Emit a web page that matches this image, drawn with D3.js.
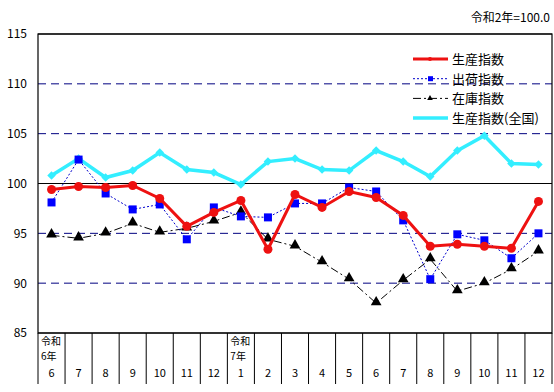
<!DOCTYPE html>
<html>
<head>
<meta charset="utf-8">
<script src="https://cdn.jsdelivr.net/npm/d3@7"></script>
<style>
  body { margin: 0; background: #fff; }
  svg text { font-family: 'Noto Sans CJK JP', 'DejaVu Sans', sans-serif; }
</style>
</head>
<body>
<div id="chart"></div>
<script>
// months on the x axis (令和6年6月 .. 令和7年12月)
let months = ['6', '7', '8', '9', '10', '11', '12', '1', '2', '3', '4', '5', '6', '7', '8', '9', '10', '11', '12']
let eraLabels = { 0: ['令和', '6年'], 7: ['令和', '7年'] }

let production = [99.4, 99.7, 99.6, 99.8, 98.5, 95.7, 97.1, 98.3, 93.4, 98.9, 97.6, 99.2, 98.6, 96.8, 93.7, 93.9, 93.7, 93.5, 98.2]
let shipments = [98.1, 102.4, 99.0, 97.4, 97.9, 94.4, 97.6, 96.7, 96.6, 98.0, 98.0, 99.6, 99.2, 96.3, 90.4, 94.9, 94.3, 92.5, 95.0]
let inventory = [94.8, 94.5, 95.0, 96.0, 95.1, 95.5, 96.2, 97.1, 94.4, 93.7, 92.1, 90.4, 88.0, 90.3, 92.4, 89.2, 90.0, 91.4, 93.2]
let national = [100.8, 102.5, 100.6, 101.3, 103.1, 101.4, 101.1, 99.9, 102.2, 102.5, 101.4, 101.3, 103.3, 102.2, 100.7, 103.3, 104.8, 102.0, 101.9]

let yTicks = [85, 90, 95, 100, 105, 110, 115]

let margin = { top: 34, left: 38, right: 2, bottom: 59 }
let width = 554 - margin.left - margin.right
let height = 392 - margin.top - margin.bottom

let svg = d3
  .select('#chart')
  .append('svg')
  .attr('width', 554)
  .attr('height', 392)

let g = svg.append('g')
  .attr('transform', 'translate(' + margin.left + ',' + margin.top + ')')

let x = d3.scaleBand().domain(d3.range(months.length)).range([0, width])
let y = d3.scaleLinear().domain([85, 115]).range([height, 0])
let cx = i => x(i) + x.bandwidth() / 2

// unit note
svg.append('text')
  .attr('x', 550).attr('y', 22)
  .attr('text-anchor', 'end')
  .attr('font-size', 12)
  .text('令和2年=100.0')

// grid lines
yTicks.forEach(t => {
  let solid = t === 85 || t === 100 || t === 115
  g.append('line')
    .attr('x1', 0).attr('x2', width)
    .attr('y1', y(t)).attr('y2', y(t))
    .attr('stroke', solid ? '#000' : '#000080')
    .attr('stroke-width', solid ? 1.2 : 1)
    .attr('stroke-dasharray', solid ? null : '8,5')
})

// plot border
g.append('rect')
  .attr('width', width).attr('height', height)
  .attr('fill', 'none').attr('stroke', '#000').attr('stroke-width', 1.2)

// y labels
let yAxis = d3.axisLeft(y).tickValues(yTicks).tickSize(0).tickPadding(11)
g.append('g')
  .call(yAxis)
  .call(s => s.select('.domain').remove())
  .selectAll('text')
  .attr('font-size', 12)
  .attr('font-family', "'Liberation Sans', Arial, sans-serif")
  .attr('fill', '#000')

// category table under the plot
let table = g.append('g').attr('transform', 'translate(0,' + height + ')')
d3.range(months.length + 1).forEach(i => {
  let xx = i < months.length ? x(i) : width
  table.append('line')
    .attr('x1', xx).attr('x2', xx)
    .attr('y1', 0).attr('y2', 51)
    .attr('stroke', '#000').attr('stroke-width', 1)
})
table.selectAll('.month')
  .data(months)
  .enter()
  .append('text')
  .attr('class', 'month')
  .attr('x', (d, i) => cx(i))
  .attr('y', 44)
  .attr('text-anchor', 'middle')
  .attr('font-size', 11)
  .text(d => d)
Object.keys(eraLabels).forEach(k => {
  eraLabels[k].forEach((t, j) => {
    table.append('text')
      .attr('x', x(+k) + 3)
      .attr('y', 12 + j * 14.5)
      .attr('font-size', 10)
      .text(t)
  })
})

let line = d3.line().x((d, i) => cx(i)).y(d => y(d))

// 全国
g.append('path').datum(national)
  .attr('d', line).attr('fill', 'none')
  .attr('stroke', '#33eeff').attr('stroke-width', 3.5)
g.selectAll('.nat').data(national).enter().append('rect')
  .attr('x', (d, i) => cx(i) - 3).attr('y', d => y(d) - 3)
  .attr('width', 6).attr('height', 6)
  .attr('transform', (d, i) => `rotate(45,${cx(i)},${y(d)})`)
  .attr('fill', '#33eeff')

// 在庫
g.append('path').datum(inventory)
  .attr('d', line).attr('fill', 'none')
  .attr('stroke', '#000').attr('stroke-width', 1)
  .attr('stroke-dasharray', '8,3,2,3')
let tri = d3.symbol().type(d3.symbolTriangle).size(50)
g.selectAll('.inv').data(inventory).enter().append('path')
  .attr('d', tri)
  .attr('transform', (d, i) => `translate(${cx(i)},${y(d) - 1})`)
  .attr('fill', '#000')

// 出荷
g.append('path').datum(shipments)
  .attr('d', line).attr('fill', 'none')
  .attr('stroke', '#0000cc').attr('stroke-width', 1)
  .attr('stroke-dasharray', '2,2')
g.selectAll('.shp').data(shipments).enter().append('rect')
  .attr('x', (d, i) => cx(i) - 4).attr('y', d => y(d) - 4)
  .attr('width', 8).attr('height', 8)
  .attr('fill', '#0000ff')

// 生産
g.append('path').datum(production)
  .attr('d', line).attr('fill', 'none')
  .attr('stroke', '#ee1111').attr('stroke-width', 3)
g.selectAll('.prd').data(production).enter().append('circle')
  .attr('cx', (d, i) => cx(i)).attr('cy', d => y(d))
  .attr('r', 4.5)
  .attr('fill', '#ee1111')

// legend
let legend = [
  { name: '生産指数', color: '#ee1111', w: 3, dash: null, mark: 'circle' },
  { name: '出荷指数', color: '#0000cc', w: 1, dash: '2,2', mark: 'square' },
  { name: '在庫指数', color: '#000', w: 1, dash: '8,3,2,3', mark: 'tri' },
  { name: '生産指数(全国)', color: '#33eeff', w: 3.5, dash: null, mark: 'none' }
]
let lg = svg.append('g').attr('transform', 'translate(413,59)')
legend.forEach((d, i) => {
  let row = lg.append('g').attr('transform', 'translate(0,' + i * 19.7 + ')')
  row.append('line')
    .attr('x1', 0).attr('x2', 35).attr('y1', 0).attr('y2', 0)
    .attr('stroke', d.color).attr('stroke-width', d.w)
    .attr('stroke-dasharray', d.dash)
  if (d.mark === 'circle') row.append('circle').attr('cx', 17).attr('r', 2).attr('fill', d.color)
  if (d.mark === 'square') row.append('rect').attr('x', 15).attr('y', -2.5).attr('width', 5).attr('height', 5).attr('fill', '#0000ff')
  if (d.mark === 'tri') row.append('path').attr('d', d3.symbol().type(d3.symbolTriangle).size(14)).attr('transform', 'translate(17,0)')
  row.append('text')
    .attr('x', 39).attr('y', 5)
    .attr('font-size', 13)
    .text(d.name)
})
</script>
</body>
</html>
